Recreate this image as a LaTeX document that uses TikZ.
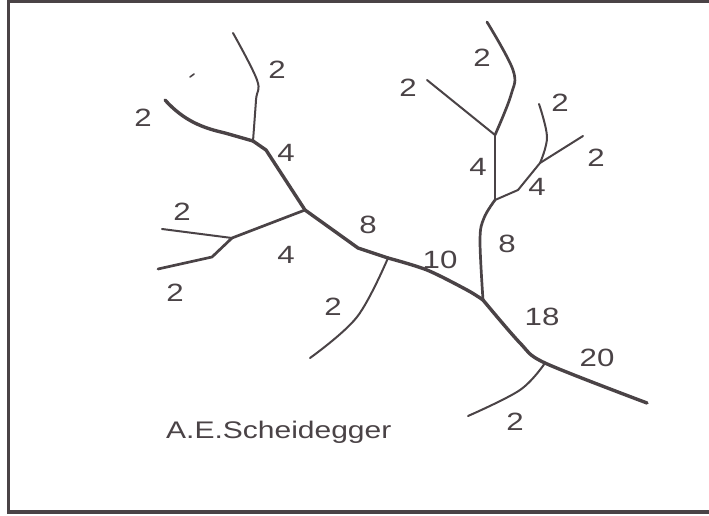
\documentclass[tikz,border=0pt]{standalone}
\usepackage{fontspec}
\newfontfamily\orderfont[FakeStretch=1.25]{Liberation Sans}
\definecolor{ink}{HTML}{4A4346}
\begin{document}
\begin{tikzpicture}[x=1pt,y=-1pt,
  stream/.style={draw=ink,line width=2pt,line cap=round,line join=round},
  midstream/.style={stream,line width=2.7pt},
  trunk/.style={stream,line width=3.4pt},
  order/.style={text=ink,font=\orderfont\fontsize{25}{29}\selectfont,inner sep=0pt},
  frameline/.style={draw=ink,line width=3.2pt},
]
\useasboundingbox (0,0) rectangle (709,516);
\clip (0,0) rectangle (709,516);

% open frame (left, top, bottom)
\draw[frameline] (720,1.5) -- (8.5,1.5) -- (8.5,512) -- (720,512);

% junctions
\coordinate (out) at (647,403);
\coordinate (J5) at (545,363);
\coordinate (J4) at (483,300);
\coordinate (J3) at (388,258);
\coordinate (J2) at (305,210);
\coordinate (J1) at (253,141);
\coordinate (K)  at (232,238);
\coordinate (J7) at (495,200);
\coordinate (J6) at (495,135);
\coordinate (J8) at (540,163);

% sources
\coordinate (s1) at (165,100);
\coordinate (s2) at (233,33);
\coordinate (s3) at (162,229);
\coordinate (s4) at (158,269);
\coordinate (s5) at (310,358);
\coordinate (s6) at (468,416);
\coordinate (s7) at (487,22);
\coordinate (s8) at (427,80);
\coordinate (s9) at (583,136);
\coordinate (s10) at (539,104);

% main channel, order 20 down to the left head
\draw[trunk] plot[smooth,tension=0.5] coordinates
  {(out) (J5) (520,343) (J4)};
\draw[trunk] plot[smooth,tension=0.5] coordinates
  {(J4) (467,290) (427,270) (J3)};
\draw[trunk] (J3) -- (358,248) -- (J2) -- (266,150) -- (J1);
\draw[trunk] (J1) -- (225,133) .. controls (203,128) and (184,121) .. (s1);

% left tributaries
\draw[stream] plot[smooth,tension=0.6] coordinates
  {(J1) (256,100) (257,80) (s2)};
\draw[midstream] (J2) -- (K);
\draw[stream] (K) -- (s3);
\draw[midstream] (K) -- (212,257) -- (s4);
\draw[stream] plot[smooth,tension=0.6] coordinates
  {(J3) (357,317) (s5)};
\draw[stream] plot[smooth,tension=0.6] coordinates
  {(J5) (520,390) (s6)};

% right-hand tributary system
\draw[midstream] plot[smooth,tension=0.6] coordinates
  {(J4) (480,240) (484,218) (J7)};
\draw[midstream] (J7) -- (J6);
\draw[midstream] plot[smooth,tension=0.6] coordinates
  {(J6) (511,95) (513,70) (s7)};
\draw[stream] (J6) -- (s8);
\draw[stream] (J7) -- (518,190) -- (J8);
\draw[stream] (J8) -- (s9);
\draw[stream] plot[smooth,tension=0.6] coordinates
  {(J8) (547,137) (s10)};

% small speck
\draw[stream,line width=1.6pt] (190,77) -- (194,74);

% stream orders
\node[order] (n1)  at (277,70)  {2};
\node[order] (n2)  at (143,118) {2};
\node[order] (n3)  at (286,153) {4};
\node[order] (n4)  at (182,212) {2};
\node[order] (n5)  at (286,255) {4};
\node[order] (n6)  at (175,293) {2};
\node[order] (n7)  at (368,225) {8};
\node[order] (n8)  at (333,307) {2};
\node[order] (n9)  at (440,260) {10};
\node[order] (n10) at (542,317) {18};
\node[order] (n11) at (597,358) {20};
\node[order] (n12) at (515,422) {2};
\node[order] (n13) at (482,58)  {2};
\node[order] (n14) at (408,88)  {2};
\node[order] (n15) at (478,167) {4};
\node[order] (n16) at (537,187) {4};
\node[order] (n17) at (596,158) {2};
\node[order] (n18) at (560,103) {2};
\node[order] (n19) at (507,244) {8};

\node[order,anchor=base west,font=\orderfont\fontsize{24}{28}\selectfont] (author) at (166,438) {A.E.Scheidegger};
\end{tikzpicture}
\end{document}
